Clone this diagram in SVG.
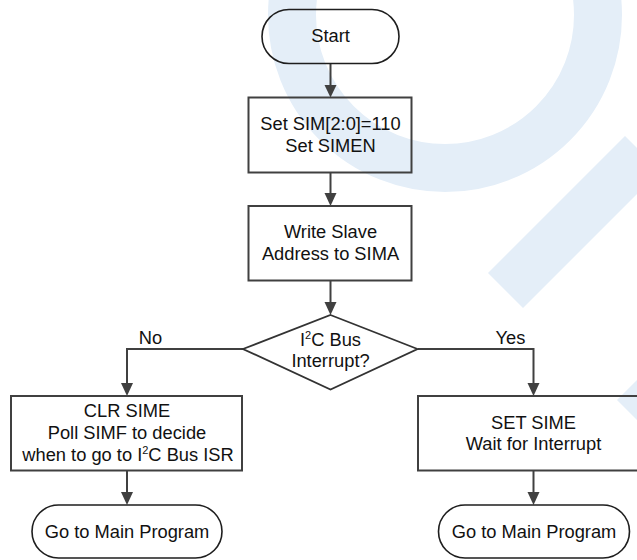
<svg xmlns="http://www.w3.org/2000/svg" width="637" height="560" viewBox="0 0 637 560">
<style>
.wm{fill:#e4eef8;stroke:none}
.wmr{fill:none;stroke:#e4eef8;stroke-width:48}
.term{fill:none;stroke:#1e1e1e;stroke-width:1.6}
.box{fill:none;stroke:#404040;stroke-width:2}
.dec{fill:none;stroke:#333;stroke-width:1.8}
.ln{fill:none;stroke:#404040;stroke-width:2}
.hd{fill:#404040;stroke:none}
text{font-family:"Liberation Sans",Arial,sans-serif;font-size:18.3px;fill:#111;text-anchor:middle}
.sup{font-size:11px}
</style>
<rect width="637" height="560" fill="#ffffff"/>
<g id="watermark">
<circle class="wmr" cx="445" cy="15" r="153"/>
<polygon class="wm" points="488,273 523,308 660,171 625,136"/>
<polygon class="wm" points="617,400 660,357 660,443"/>
</g>
<g id="connectors">
<line class="ln" x1="330.5" y1="63" x2="330.5" y2="86"/>
<polygon class="hd" points="324.5,85 336.5,85 330.5,97.5"/>
<line class="ln" x1="330.5" y1="172" x2="330.5" y2="194"/>
<polygon class="hd" points="324.5,193 336.5,193 330.5,206"/>
<line class="ln" x1="330.5" y1="280" x2="330.5" y2="303"/>
<polygon class="hd" points="324.5,302 336.5,302 330.5,315"/>
<polyline class="ln" points="243,349 127,349 127,384"/>
<polygon class="hd" points="121,383 133,383 127,396"/>
<polyline class="ln" points="418,349 533.5,349 533.5,384"/>
<polygon class="hd" points="527.5,383 539.5,383 533.5,396"/>
<line class="ln" x1="127" y1="470" x2="127" y2="493"/>
<polygon class="hd" points="121,492 133,492 127,505"/>
<line class="ln" x1="533.5" y1="470.5" x2="533.5" y2="493"/>
<polygon class="hd" points="527.5,492 539.5,492 533.5,505"/>
<text x="150.5" y="344">No</text>
<text x="510.5" y="343.5">Yes</text>
</g>
<g id="start">
<rect class="term" x="262" y="9.5" width="137" height="54" rx="27" ry="27"/>
<text x="330.5" y="42">Start</text>
</g>
<g id="setsim">
<rect class="box" x="248.5" y="97.5" width="163" height="75"/>
<text x="330.5" y="130">Set SIM[2:0]=110</text>
<text x="330.5" y="152">Set SIMEN</text>
</g>
<g id="writeslave">
<rect class="box" x="248.5" y="206" width="163" height="74.5"/>
<text x="330.5" y="237.5">Write Slave</text>
<text x="330.5" y="259.5">Address to SIMA</text>
</g>
<g id="decision">
<polygon class="dec" points="330.5,315 417.5,349 330.5,389.5 243,349"/>
<text x="330.5" y="345.5">I<tspan class="sup" dy="-7">2</tspan><tspan dy="7">C Bus</tspan></text>
<text x="330.5" y="366.5">Interrupt?</text>
</g>
<g id="clrsime">
<rect class="box" x="11" y="396" width="231" height="74.5"/>
<text x="127" y="416.5">CLR SIME</text>
<text x="127" y="439">Poll SIMF to decide</text>
<text x="128" y="461">when to go to I<tspan class="sup" dy="-7">2</tspan><tspan dy="7">C Bus ISR</tspan></text>
</g>
<g id="setsime">
<rect class="box" x="418" y="396" width="240" height="74.5"/>
<text x="533.5" y="428.5">SET SIME</text>
<text x="533.5" y="450">Wait for Interrupt</text>
</g>
<g id="main-left">
<rect class="term" x="32" y="505" width="190" height="53" rx="26.5" ry="26.5"/>
<text x="127" y="537.5">Go to Main Program</text>
</g>
<g id="main-right">
<rect class="term" x="438.5" y="505" width="191" height="53" rx="26.5" ry="26.5"/>
<text x="534" y="537.5">Go to Main Program</text>
</g>
</svg>
